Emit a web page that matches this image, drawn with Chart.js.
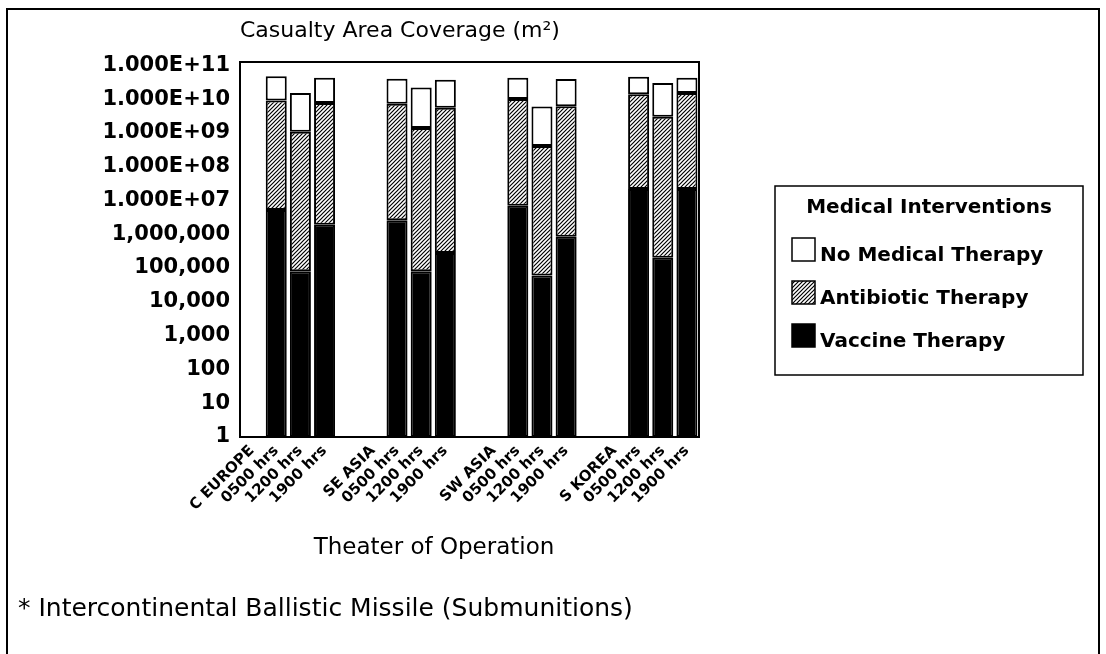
<!DOCTYPE html>
<html>
<head>
<meta charset="utf-8">
<script src="https://cdn.jsdelivr.net/npm/chart.js@4.4.1/dist/chart.umd.min.js"></script>
<style>
  html, body { margin: 0; padding: 0; background: #fff; }
  #wrap { width: 1106px; height: 654px; position: relative; }
</style>
</head>
<body>
<div id="wrap"><canvas id="c" width="1106" height="654"></canvas></div>
<script>
// Theater / time-of-attack slots (blank entries leave a gap between theaters)
const categories = [
  'C EUROPE', '0500 hrs', '1200 hrs', '1900 hrs', '',
  'SE ASIA', '0500 hrs', '1200 hrs', '1900 hrs', '',
  'SW ASIA', '0500 hrs', '1200 hrs', '1900 hrs', '',
  'S KOREA', '0500 hrs', '1200 hrs', '1900 hrs'
];

// Casualty area (m²) remaining under each intervention; null where no bar is drawn
const vaccineArea = [
  null, 5.2e6, 8.0e4, 1.9e6, null,
  null, 2.6e6, 8.0e4, 2.8e5, null,
  null, 7.0e6, 6.0e4, 8.4e5, null,
  null, 2.2e7, 2.0e5, 2.2e7
];
const antibioticArea = [
  null, 9.0e9, 1.07e9, 7.6e9, null,
  null, 7.3e9, 1.4e9, 5.5e9, null,
  null, 1.0e10, 4.1e8, 6.1e9, null,
  null, 1.4e10, 3.0e9, 1.5e10
];
const noTherapyArea = [
  null, 4.7e10, 1.5e10, 4.3e10, null,
  null, 4.0e10, 2.2e10, 3.7e10, null,
  null, 4.3e10, 6.0e9, 3.9e10, null,
  null, 4.6e10, 3.0e10, 4.3e10
];

const yTickValues = [1, 10, 100, 1e3, 1e4, 1e5, 1e6, 1e7, 1e8, 1e9, 1e10, 1e11];
const yTickLabels = ['1', '10', '100', '1,000', '10,000', '100,000', '1,000,000',
  '1.000E+07', '1.000E+08', '1.000E+09', '1.000E+10', '1.000E+11'];

const seriesNames = ['No Medical Therapy', 'Antibiotic Therapy', 'Vaccine Therapy'];

const canvas = document.getElementById('c');
const ctx = canvas.getContext('2d');

// diagonal "////" hatch used for the antibiotic segment
function makeHatch() {
  const s = 4;
  const t = document.createElement('canvas');
  t.width = s; t.height = s;
  const g = t.getContext('2d');
  g.fillStyle = '#fff';
  g.fillRect(0, 0, s, s);
  g.strokeStyle = '#000';
  g.lineWidth = 1.2;
  g.beginPath();
  g.moveTo(-1, s + 1); g.lineTo(s + 1, -1);
  g.moveTo(-1, 1); g.lineTo(1, -1);
  g.moveTo(s - 1, s + 1); g.lineTo(s + 1, s - 1);
  g.stroke();
  return ctx.createPattern(t, 'repeat');
}
const hatch = makeHatch();

// each segment is a floating bar spanning from the segment below it to its own top
const floor = categories.map(() => 1);
function span(lo, hi) {
  return hi.map((h, i) => (h == null ? null : [lo[i], h]));
}

const FONT = 'DejaVu Sans';

const decorations = {
  id: 'decorations',
  afterDraw(chart) {
    const c = chart.ctx;
    const a = chart.chartArea;
    c.save();
    // outer frame
    c.strokeStyle = '#000';
    c.lineWidth = 2;
    c.beginPath();
    c.moveTo(7, 654);
    c.lineTo(7, 9);
    c.lineTo(1099, 9);
    c.lineTo(1099, 654);
    c.stroke();

    // plot frame
    c.lineWidth = 2;
    c.strokeRect(a.left, a.top, a.right - a.left, a.bottom - a.top);

    c.fillStyle = '#000';
    c.textBaseline = 'middle';
    c.textAlign = 'left';
    c.font = '22px "' + FONT + '"';
    c.fillText('Casualty Area Coverage (m²)', 240, 31);

    c.textAlign = 'center';
    c.font = '23px "' + FONT + '"';
    c.fillText('Theater of Operation', 434, 548);

    c.textAlign = 'left';
    c.font = '25px "' + FONT + '"';
    c.fillText('* Intercontinental Ballistic Missile (Submunitions)', 18, 609);

    // legend
    const lx = 775, ly = 186, lw = 308, lh = 189;
    c.lineWidth = 1.5;
    c.strokeRect(lx, ly, lw, lh);
    c.textAlign = 'center';
    c.font = 'bold 20px "' + FONT + '"';
    c.fillText('Medical Interventions', lx + lw / 2, 208);

    const order = [2, 1, 0]; // datasets listed top-to-bottom as stacked
    order.forEach((di, k) => {
      const ds = chart.data.datasets[di];
      const cy = 256 + k * 43;
      const bx = 792, by = cy - 18, bs = 23;
      c.fillStyle = ds.backgroundColor;
      c.fillRect(bx, by, bs, bs);
      c.strokeStyle = '#000';
      c.lineWidth = 1.5;
      c.strokeRect(bx, by, bs, bs);
      c.fillStyle = '#000';
      c.textAlign = 'left';
      c.font = 'bold 20px "' + FONT + '"';
      c.fillText(ds.label, 820, cy);
    });
    c.restore();
  }
};

new Chart(ctx, {
  type: 'bar',
  data: {
    labels: categories,
    datasets: [
      {
        label: seriesNames[2],
        data: span(floor, vaccineArea),
        backgroundColor: '#000',
        borderColor: '#000',
        borderWidth: 2,
        borderSkipped: false
      },
      {
        label: seriesNames[1],
        data: span(vaccineArea, antibioticArea),
        backgroundColor: hatch,
        borderColor: '#000',
        borderWidth: 2,
        borderSkipped: false
      },
      {
        label: seriesNames[0],
        data: span(antibioticArea, noTherapyArea),
        backgroundColor: '#fff',
        borderColor: '#000',
        borderWidth: 2,
        borderSkipped: false
      }
    ]
  },
  options: {
    responsive: false,
    animation: false,
    events: [],
    layout: { padding: { left: 0, top: 62, right: 407, bottom: 137 } },
    datasets: { bar: { grouped: false, categoryPercentage: 1, barPercentage: 0.87 } },
    scales: {
      x: {
        grid: { display: false, drawTicks: false },
        border: { display: false },
        ticks: {
          autoSkip: false,
          minRotation: 45,
          maxRotation: 45,
          padding: 5,
          color: '#000',
          font: { family: FONT, weight: 'bold', size: 15 }
        },
        afterFit(s) { s.height = 80; }
      },
      y: {
        type: 'logarithmic',
        min: 1,
        max: 1.25e11,
        grid: { display: false, drawTicks: false },
        border: { display: false },
        afterBuildTicks(s) { s.ticks = yTickValues.map(v => ({ value: v, major: false })); },
        ticks: {
          padding: 10,
          color: '#000',
          font: { family: FONT, weight: 'bold', size: 21 },
          callback(v) {
            const i = yTickValues.indexOf(v);
            return i >= 0 ? yTickLabels[i] : '';
          }
        },
        afterFit(s) { s.width = 240; }
      }
    },
    plugins: {
      legend: { display: false },
      tooltip: { enabled: false },
      title: { display: false }
    }
  },
  plugins: [decorations]
});
</script>
</body>
</html>
